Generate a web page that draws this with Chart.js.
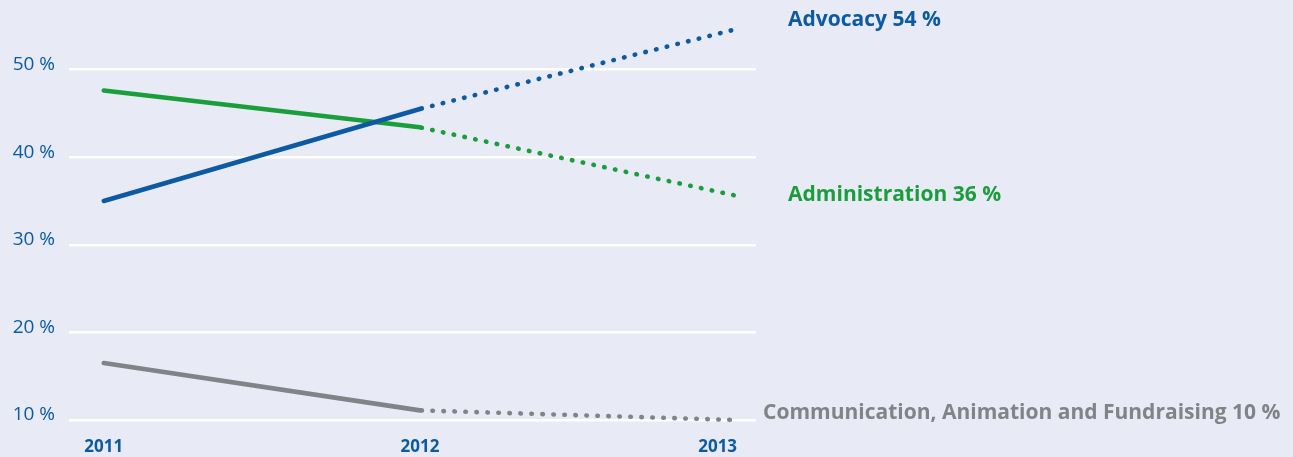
<!DOCTYPE html>
<html>
<head>
<meta charset="utf-8">
<script src="https://cdn.jsdelivr.net/npm/chart.js@4"></script>
<style>
  html, body { margin: 0; padding: 0; background: #e8eaf5; }
  #wrap { width: 1293px; height: 457px; position: relative; }
</style>
</head>
<body>
<div id="wrap"><canvas id="c" width="1293" height="457"></canvas></div>
<script>
const years = [2011, 2012, 2013];
const yearLabels = ['2011', '2012', '2013'];
const advocacy = [35.0, 45.5, 54.6];
const administration = [47.6, 43.4, 35.6];
const communication = [16.5, 11.1, 10.0];
const seriesNames = ['Advocacy 54 %', 'Administration 36 %', 'Communication, Animation and Fundraising 10 %'];
const yTicks = [10, 20, 30, 40, 50];

const BLUE = '#0b5aa2', GREEN = '#1a9e3c', GRAY = '#808387';

function toPoints(arr) { return arr.map((v, i) => ({ x: years[i], y: v })); }

const dotted = [0.5, 10.5];
function ds(label, data, color) {
  return {
    label, data: toPoints(data), borderColor: color, backgroundColor: color,
    borderWidth: 4.6, borderCapStyle: 'round', borderJoinStyle: 'round',
    pointRadius: 0, tension: 0, clip: false,
    segment: {
      borderDash: ctx => ctx.p0.parsed.x >= 2012 ? dotted : undefined,
      borderDashOffset: ctx => ctx.p0.parsed.x >= 2012 ? -1.5 : 0
    }
  };
}

const sideLabels = {
  id: 'sideLabels',
  afterDatasetsDraw(chart) {
    const { ctx, scales: { x, y } } = chart;
    ctx.save();
    const offs = [{ dx: 52, dy: -9 }, { dx: 52, dy: -1 }, { dx: 27, dy: -7 }];
    chart.data.datasets.forEach((d, i) => {
      const last = d.data[d.data.length - 1];
      const px = x.getPixelForValue(last.x) + offs[i].dx;
      const py = y.getPixelForValue(last.y) + offs[i].dy;
      ctx.font = 'bold 21px "Open Sans"';
      ctx.fillStyle = d.borderColor;
      ctx.textAlign = 'left';
      ctx.textBaseline = 'middle';
      ctx.fillText(seriesNames[i], px, py);
    });
    ctx.font = 'bold 17px "Open Sans"';
    ctx.fillStyle = BLUE;
    ctx.textBaseline = 'middle';
    years.forEach((yr, i) => {
      const px = x.getPixelForValue(yr);
      const lastOne = i === years.length - 1;
      ctx.textAlign = lastOne ? 'right' : 'center';
      ctx.fillText(yearLabels[i], lastOne ? px + 1 : px, 447);
    });
    ctx.restore();
  }
};

new Chart(document.getElementById('c'), {
  type: 'line',
  data: { datasets: [ds(seriesNames[0], advocacy, BLUE), ds(seriesNames[1], administration, GREEN), ds(seriesNames[2], communication, GRAY)] },
  options: {
    responsive: false, animation: false, devicePixelRatio: 1,
    layout: { padding: { top: 69.5, bottom: 37, right: 537, left: 0 } },
    plugins: { legend: { display: false }, tooltip: { enabled: false } },
    scales: {
      x: { type: 'linear', display: false, min: 2010.89, max: 2013.063 },
      y: {
        type: 'linear', min: 10, max: 50,
        afterFit(scale) { scale.width = 69; },
        afterBuildTicks(scale) { scale.ticks = yTicks.map(v => ({ value: v })); },
        border: { display: false },
        grid: { color: '#ffffff', lineWidth: 2.5, drawTicks: false },
        ticks: {
          padding: 14, labelOffset: -5, color: BLUE,
          font: { family: '"Open Sans"', size: 19 },
          callback: v => v + ' %'
        }
      }
    }
  },
  plugins: [sideLabels]
});
</script>
</body>
</html>
